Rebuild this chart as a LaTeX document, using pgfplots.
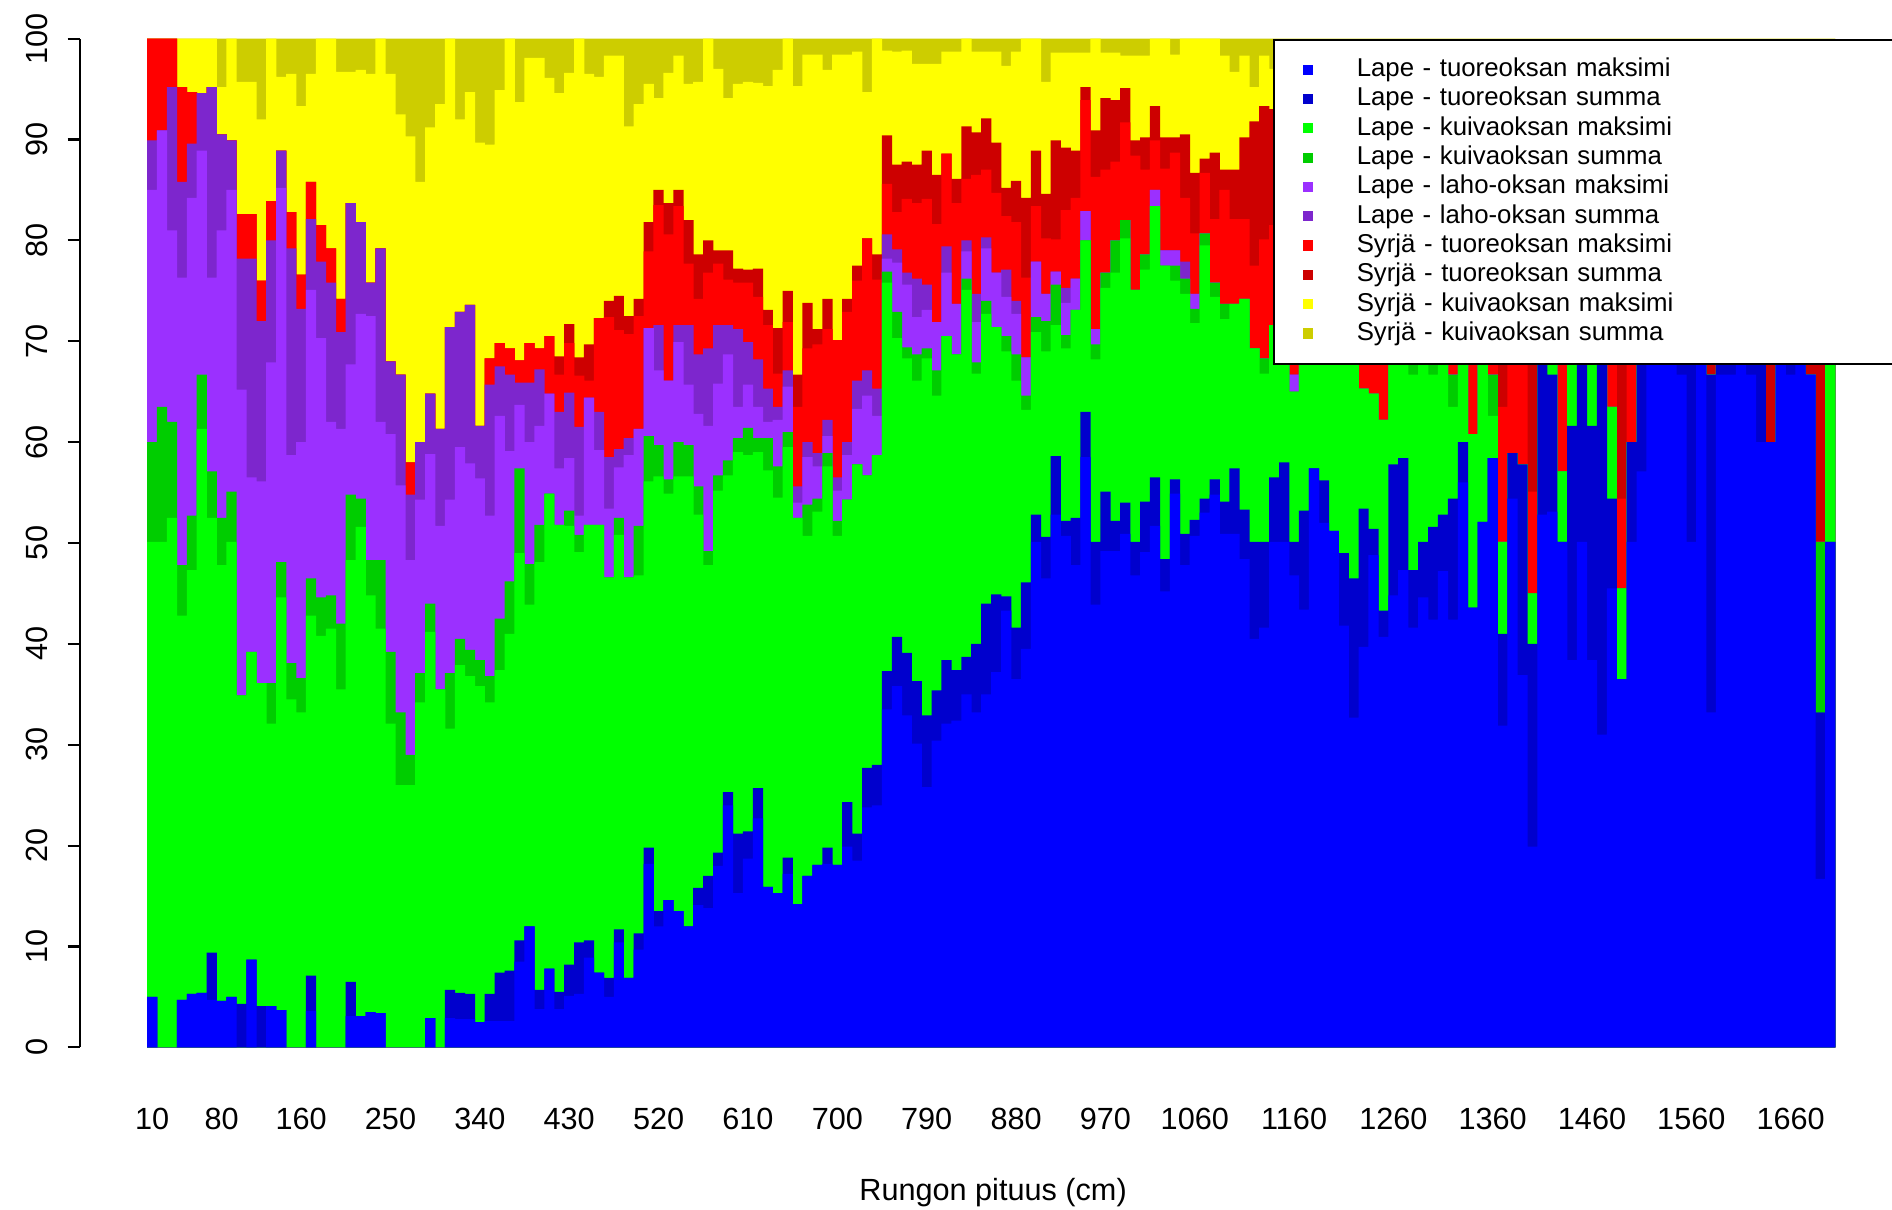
\documentclass[border=0pt]{standalone}
\usepackage{fontspec}
\setmainfont{Liberation Sans}
\usepackage{pgfplots}
\usepackage{pgfplotstable}
\pgfplotsset{compat=1.18}

% R colours: X and X3
\definecolor{c1}{RGB}{0,0,255}
\definecolor{c2}{RGB}{0,0,205}
\definecolor{c3}{RGB}{0,255,0}
\definecolor{c4}{RGB}{0,205,0}
\definecolor{c5}{RGB}{155,48,255}
\definecolor{c6}{RGB}{125,38,205}
\definecolor{c7}{RGB}{255,0,0}
\definecolor{c8}{RGB}{205,0,0}
\definecolor{c9}{RGB}{255,255,0}
\definecolor{c10}{RGB}{205,205,0}

% cumulative tops of the stacked shares (%), per stem length class
\pgfplotstableread{
x c1 c2 c3 c4 c5 c6 c7 c8 c9 c10
10 5.0 5.0 50.1 60.0 85.0 89.9 100 100 100 100
20 0 0 50.1 63.5 90.9 90.9 100 100 100 100
30 0 0 52.5 62.0 81.0 95.2 100 100 100 100
40 4.7 4.7 42.8 47.8 76.3 85.8 95.2 95.2 100 100
50 5.3 5.3 47.3 52.7 84.2 89.6 94.7 94.7 100 100
60 5.4 5.4 61.3 66.7 88.9 94.6 94.6 94.6 100 100
70 4.7 9.4 52.5 57.1 76.3 95.2 95.2 95.2 100 100
80 4.6 4.6 47.8 52.5 81.0 90.5 90.5 90.5 95.2 100
90 5.0 5.0 50.1 55.1 85.0 89.9 89.9 89.9 100 100
100 0 4.3 34.9 34.9 65.2 78.2 82.6 82.6 95.7 100
110 8.7 8.7 39.2 39.2 56.5 78.2 82.6 82.6 95.7 100
120 0 4.1 36.1 36.1 56.1 72.0 76.0 76.0 92.0 100
130 4.1 4.1 32.1 36.1 67.9 80.0 83.9 83.9 100 100
140 3.7 3.7 44.6 48.1 85.2 88.9 88.9 88.9 96.2 100
150 0 0 34.5 38.1 58.7 79.2 82.8 82.8 96.5 100
160 0 0 33.2 36.6 60.0 73.2 76.6 76.6 93.3 100
170 3.6 7.1 42.8 46.5 75.1 82.1 85.8 85.8 96.5 100
180 0 0 40.8 44.6 70.3 77.9 81.5 81.5 100 100
190 0 0 41.5 44.8 62.0 75.8 79.2 79.2 100 100
200 0 0 35.5 42.0 61.3 70.9 74.2 74.2 96.7 100
210 3.1 6.5 48.3 54.8 67.7 83.7 83.7 83.7 96.7 100
220 3.1 3.1 51.6 54.4 72.7 81.8 81.8 81.8 96.9 100
230 3.5 3.5 44.8 48.3 72.5 75.8 75.8 75.8 96.5 100
240 3.4 3.4 41.5 48.3 62.0 79.2 79.2 79.2 100 100
250 0 0 32.1 39.2 60.8 68.0 68.0 68.0 96.5 100
260 0 0 26.0 33.2 55.7 66.7 66.7 66.7 92.5 100
270 0 0 26.0 29.0 48.3 54.8 58.0 58.0 90.3 100
280 0 0 34.2 37.1 54.3 60.0 60.0 60.0 85.8 100
290 2.9 2.9 41.2 44.0 58.8 64.8 64.8 64.8 91.2 100
300 0 0 35.5 35.5 51.7 61.3 61.3 61.3 93.5 100
310 2.9 5.7 31.6 37.1 54.3 71.4 71.4 71.4 100 100
320 2.8 5.4 37.9 40.5 59.5 72.9 72.9 72.9 92.0 100
330 2.8 5.3 36.8 39.4 57.9 73.6 73.6 73.6 94.7 100
340 2.5 2.5 35.8 38.4 56.4 61.6 61.6 61.6 89.7 100
350 2.6 5.3 34.2 36.8 52.7 65.7 68.3 68.3 89.5 100
360 2.6 7.4 37.4 42.5 62.6 67.5 69.8 69.8 94.9 100
370 2.6 7.6 41.0 46.2 59.1 66.7 69.3 69.3 100 100
380 8.5 10.6 49.0 57.4 63.7 65.9 68.1 68.1 93.7 100
390 12.0 12.0 43.9 47.9 60.0 65.9 69.8 69.8 98.1 100
400 3.8 5.7 48.1 51.8 61.6 67.2 69.3 69.3 98.1 100
410 7.8 7.8 54.9 54.9 64.8 64.8 70.5 70.5 96.1 100
420 3.8 5.5 51.8 51.8 57.4 63.0 66.7 68.5 94.6 100
430 5.1 8.2 51.7 53.2 58.4 64.9 69.8 71.7 96.6 100
440 5.3 10.4 49.1 50.8 52.7 61.5 66.6 68.4 100 100
450 8.9 10.6 51.8 51.8 64.4 64.4 66.1 69.7 96.5 100
460 7.4 7.4 51.8 51.8 59.2 63.0 72.3 72.3 96.2 100
470 5.0 6.9 46.6 46.6 53.4 58.5 72.4 74.0 98.3 100
480 10.4 11.7 50.8 52.5 57.5 59.3 71.1 74.5 98.3 100
490 6.9 6.9 46.6 46.6 58.7 60.4 70.7 72.5 91.3 100
500 9.7 11.3 46.8 51.7 61.3 61.3 72.5 74.2 93.5 100
510 18.2 19.8 56.1 60.6 71.3 71.3 78.9 81.8 95.5 100
520 12.0 13.5 56.6 59.7 67.1 71.6 83.5 85.0 94.1 100
530 14.6 14.6 54.9 56.3 66.1 66.1 80.6 83.7 96.6 100
540 13.5 13.5 56.6 60.0 69.9 71.6 83.4 85.0 98.3 100
550 12.0 12.0 56.6 59.7 65.7 71.6 77.7 82.0 95.5 100
560 14.1 15.8 52.8 55.6 62.8 68.7 74.2 78.6 95.7 100
570 13.8 17.0 47.8 49.2 61.6 69.3 76.8 80.0 100 100
580 18.0 19.3 55.2 56.7 65.8 71.6 77.7 79.0 97.0 100
590 24.0 25.3 56.7 58.2 68.7 71.6 76.1 79.0 94.1 100
600 15.3 21.2 59.0 60.4 63.5 71.2 75.8 77.2 95.5 100
610 18.7 21.4 58.7 61.4 65.7 69.9 75.8 77.1 95.7 100
620 22.7 25.7 59.0 60.4 63.5 68.2 74.4 77.2 95.6 100
630 15.9 15.9 57.2 60.4 62.0 65.3 71.6 73.1 95.3 100
640 15.3 15.3 54.5 57.6 62.2 63.5 66.8 71.3 96.9 100
650 17.2 18.8 59.5 61.0 65.5 67.1 71.9 75.0 100 100
660 14.2 14.2 52.5 52.5 54.0 55.6 63.5 66.7 95.3 100
670 17.0 17.0 50.7 53.8 58.5 60.0 69.3 73.8 98.4 100
680 18.1 18.1 53.1 54.4 57.6 58.9 69.7 71.2 98.4 100
690 18.2 19.8 57.6 58.9 60.6 62.2 71.2 74.2 96.9 100
700 18.1 18.1 50.7 52.2 55.2 56.5 70.1 70.1 98.4 100
710 19.9 24.3 54.3 54.3 58.7 60.0 72.9 74.2 98.4 100
720 18.5 21.2 57.8 57.8 63.3 66.1 76.0 77.5 98.7 100
730 23.8 27.7 56.7 56.7 64.6 67.1 80.2 80.2 94.7 100
740 24.0 28.0 58.7 58.7 62.6 65.3 76.1 78.6 100 100
750 33.5 37.3 75.8 76.9 78.2 80.6 85.6 90.4 98.8 100
760 35.8 40.7 70.3 72.9 77.8 79.1 82.8 87.5 98.7 100
770 32.9 39.1 68.3 69.4 75.6 76.8 84.1 87.8 98.8 100
780 30.1 36.3 66.1 68.7 72.4 76.2 83.7 87.5 97.5 100
790 25.8 32.9 68.3 69.3 73.1 75.6 84.1 88.9 97.5 100
800 30.4 35.4 64.6 67.1 71.9 71.9 81.6 86.5 97.5 100
810 32.1 38.4 70.5 70.5 76.8 79.4 88.6 88.6 98.7 100
820 32.4 37.4 68.7 68.7 73.7 73.7 83.7 86.1 98.7 100
830 35.0 38.7 75.1 76.2 78.9 80.0 86.1 91.3 100 100
840 33.2 40.0 66.8 67.9 71.9 74.7 86.5 90.7 98.7 100
850 35.0 44.0 72.7 74.0 79.2 80.3 87.0 92.1 98.7 100
860 37.2 44.9 71.4 71.4 76.8 76.8 84.7 89.7 98.7 100
870 43.3 44.7 69.0 70.5 74.4 77.1 82.4 85.2 97.3 100
880 36.5 41.6 66.1 68.7 72.7 74.0 81.8 85.9 98.7 100
890 39.5 46.1 63.2 64.6 68.4 68.4 76.3 84.2 100 100
900 50.1 52.8 70.9 72.4 77.9 77.9 83.4 88.9 100 100
910 46.5 50.6 69.0 72.0 74.7 74.7 80.2 84.6 95.7 100
920 52.8 58.6 71.6 75.6 76.9 76.9 80.1 89.9 98.6 100
930 50.7 52.2 69.3 70.6 73.8 75.3 83.0 89.2 98.6 100
940 47.8 52.5 73.1 73.1 76.2 76.2 84.2 88.9 98.6 100
950 58.5 63.0 80.0 80.0 82.9 82.9 93.9 95.2 98.6 100
960 43.9 50.1 68.2 69.7 71.2 71.2 86.3 90.9 100 100
970 49.2 55.1 75.3 76.8 76.8 76.8 87.0 94.1 98.6 100
980 49.2 52.2 76.8 80.0 80.0 80.0 87.8 93.9 98.6 100
990 50.9 54.0 80.2 82.0 82.0 82.0 91.7 95.1 98.3 100
1000 46.8 50.1 75.1 75.1 75.1 75.1 88.4 89.9 98.3 100
1010 49.1 54.1 77.1 78.6 78.6 78.6 87.0 90.2 98.3 100
1020 51.7 56.5 83.4 83.4 85.0 85.0 89.9 93.3 100 100
1030 45.2 48.4 77.5 77.5 79.0 79.0 87.1 90.2 100 100
1040 54.9 56.3 76.0 77.5 79.0 79.0 88.7 90.2 98.4 100
1050 47.8 50.9 74.7 76.2 76.2 77.9 84.2 90.5 100 100
1060 50.7 52.3 71.8 73.2 74.7 74.7 80.7 86.7 100 100
1070 53.0 54.4 79.5 80.7 80.7 80.7 86.7 88.1 100 100
1080 54.8 56.3 74.4 75.8 75.8 75.8 82.1 88.7 100 100
1090 50.9 54.1 72.2 73.7 73.7 73.7 85.0 87.0 98.3 100
1100 50.9 57.4 73.7 73.7 73.7 73.7 82.1 87.0 96.7 100
1110 48.4 53.3 74.2 74.2 74.2 74.2 82.1 90.2 98.3 100
1120 40.5 50.1 69.3 69.3 69.3 69.3 77.5 91.8 95.2 100
1130 41.6 50.1 66.8 68.3 68.3 68.3 80.1 93.3 98.3 100
1140 50.1 56.5 71.6 71.6 71.6 71.6 81.5 93.0 97.0 100
1150 50.1 58.0 74 74 74 74 82 92 97 100
1160 46.8 50.1 65.0 65.0 66.7 66.7 76 88 96 100
1170 43.4 53.2 73 73 73 73 80 90 97 100
1180 57.4 57.4 75 75 75 75 83 92 98 100
1190 52.0 56.2 74 74 74 74 82 90 97 100
1200 51.2 51.2 75 75 75 75 83 90 97 100
1210 41.8 49.0 72 72 72 72 82 90 97 100
1220 32.7 46.5 72 72 72 72 80 90 97 100
1230 39.7 53.4 65.3 65.3 65.3 65.3 80 90 97 100
1240 48.8 51.4 64.8 64.8 64.8 64.8 80 90 97 100
1250 40.7 43.3 62.2 62.2 62.2 62.2 80 90 97 100
1260 44.8 57.8 75 75 75 75 83 90 97 100
1270 47.3 58.4 75 75 75 75 83 90 97 100
1280 41.6 47.3 66.7 70 70 70 80 90 97 100
1290 44.6 50.1 75 75 75 75 83 90 97 100
1300 42.4 51.6 66.7 70 70 70 80 90 97 100
1310 47.2 52.8 75 75 75 75 83 90 97 100
1320 42.4 54.4 63.5 66.7 66.7 66.7 80 90 97 100
1330 56.0 60.0 75 75 75 75 83 90 97 100
1340 43.6 43.6 60.8 60.8 60.8 60.8 80 90 97 100
1350 52.1 52.1 75 75 75 75 83 90 97 100
1360 58.4 58.4 62.6 66.7 66.7 66.7 80 90 97 100
1370 31.9 41.0 50.1 50.1 50.1 50.1 63.5 80 95 100
1380 54.4 58.9 58.9 58.9 58.9 58.9 80 90 97 100
1390 36.9 57.8 57.8 57.8 57.8 57.8 80 90 97 100
1400 19.9 40.0 45.0 45.0 45.0 45.0 55.1 80 95 100
1410 52.8 75 80 80 80 80 85 92 97 100
1420 53.1 66.7 75 75 75 75 83 90 97 100
1430 50.1 50.1 57.1 57.1 57.1 57.1 80 90 97 100
1440 38.4 61.6 75 75 75 75 83 90 97 100
1450 50.1 75 80 80 80 80 85 92 97 100
1460 38.4 61.6 75 75 75 75 83 90 97 100
1470 31.0 75 80 80 80 80 85 92 97 100
1480 45.5 54.4 63.5 63.5 63.5 63.5 80 90 97 100
1490 36.5 36.5 45.5 45.5 45.5 45.5 54.4 80 95 100
1500 50.1 60.0 60.0 60.0 60.0 60.0 80 90 97 100
1510 57.1 75 80 80 80 80 85 92 97 100
1520 80 85 90 90 90 90 95 97 99 100
1530 80 85 90 90 90 90 95 97 99 100
1540 80 85 90 90 90 90 95 97 99 100
1550 66.7 80 85 85 85 85 90 95 98 100
1560 50.1 75 80 80 80 80 85 92 97 100
1570 80 85 90 90 90 90 95 97 99 100
1580 33.2 66.7 66.7 66.7 66.7 66.7 66.7 80 95 100
1590 66.7 80 85 85 85 85 90 95 98 100
1600 66.7 80 85 85 85 85 90 95 98 100
1610 80 85 90 90 90 90 95 97 99 100
1620 66.7 80 85 85 85 85 90 95 98 100
1630 60.0 80 85 85 85 85 90 95 98 100
1640 60.0 60.0 60.0 60.0 60.0 60.0 60.0 80 95 100
1650 80 85 90 90 90 90 95 97 99 100
1660 66.7 80 85 85 85 85 90 95 98 100
1670 80 85 90 90 90 90 95 97 99 100
1680 66.7 66.7 66.7 66.7 66.7 66.7 66.7 80 95 100
1690 16.7 33.2 33.2 50.1 50.1 50.1 50.1 80 95 100
1700 50.1 50.1 80 80 80 80 85 92 97 100
}\data

\pgfplotsset{
  lay/.style={ybar, bar width=10.3, bar shift=0pt, draw=none, fill=#1,
    legend image code/.code={\fill[#1] (0pt,-1.95pt) rectangle (3.9pt,1.95pt);}},
}

\begin{document}
\begin{tikzpicture}
\begin{axis}[
  at={(0,0)}, anchor=south west,
  scale only axis, width=670.46pt, height=385.23pt,
  xmin=-63.05, xmax=1705, ymin=0, ymax=100,
  axis y line*=left, axis x line*=bottom,
  x axis line style={draw=none},
  y axis line style={-, line width=0.8pt},
  xtick={10,80,160,250,340,430,520,610,700,790,880,970,1060,1160,1260,1360,1460,1560,1660},
  xtick style={draw=none},
  ytick={0,10,...,100},
  ytick style={line width=0.8pt, black},
  tick align=outside, major tick length=4.6pt,
  /pgf/number format/assume math mode=true,
  /pgf/number format/1000 sep={},
  tick label style={font=\fontsize{11.7}{14}\selectfont},
  xticklabel style={yshift=-15pt},
  yticklabel style={xshift=-3.9pt, rotate=90, anchor=south},
  xlabel={Rungon pituus (cm)},
  xlabel style={at={(axis description cs:0.5203,-0.1435)}, anchor=center, font=\fontsize{11.7}{14}\selectfont},
  legend style={at={(axis description cs:0.6797,1)}, anchor=north west,
    draw=black, line width=0.8pt, fill=white,
    inner xsep=11pt, inner ysep=6.6pt, row sep=1.5pt, column sep=16.7pt,
    font=\fontsize{9.85}{12}\selectfont,
    nodes={inner sep=0pt, text height=7.5pt, text depth=2.2pt, text width=230pt, align=left}},
  legend cell align=left,
  reverse legend,
]
\addplot[lay=c10] table[x=x, y=c10] {\data}; \addlegendentry{Syrjä - kuivaoksan summa}
\addplot[lay=c9] table[x=x, y=c9] {\data}; \addlegendentry{Syrjä - kuivaoksan maksimi}
\addplot[lay=c8] table[x=x, y=c8] {\data}; \addlegendentry{Syrjä - tuoreoksan summa}
\addplot[lay=c7] table[x=x, y=c7] {\data}; \addlegendentry{Syrjä - tuoreoksan maksimi}
\addplot[lay=c6] table[x=x, y=c6] {\data}; \addlegendentry{Lape - laho-oksan summa}
\addplot[lay=c5] table[x=x, y=c5] {\data}; \addlegendentry{Lape - laho-oksan maksimi}
\addplot[lay=c4] table[x=x, y=c4] {\data}; \addlegendentry{Lape - kuivaoksan summa}
\addplot[lay=c3] table[x=x, y=c3] {\data}; \addlegendentry{Lape - kuivaoksan maksimi}
\addplot[lay=c2] table[x=x, y=c2] {\data}; \addlegendentry{Lape - tuoreoksan summa}
\addplot[lay=c1] table[x=x, y=c1] {\data}; \addlegendentry{Lape - tuoreoksan maksimi}
\end{axis}
\pgfresetboundingbox
\useasboundingbox (-30.41pt,-61.75pt) rectangle (692.12pt,399.97pt);
\end{tikzpicture}
\end{document}
